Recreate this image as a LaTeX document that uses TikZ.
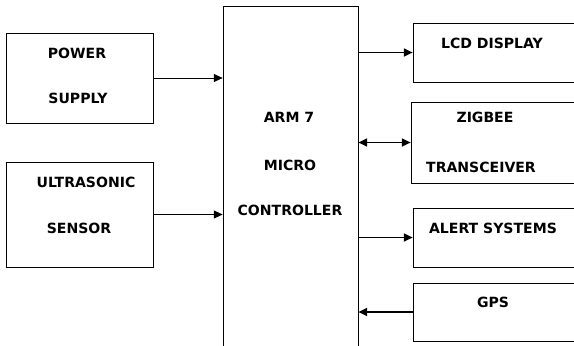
\documentclass[tikz,border=0pt]{standalone}
\usepackage{fontspec}
\setmainfont{DejaVu Sans}
\usetikzlibrary{arrows.meta}

\begin{document}
\begin{tikzpicture}[x=0.02cm, y=-0.02cm,
    block/.style={rectangle, draw, thin, inner sep=0pt},
    txt/.style={font=\bfseries\fontsize{8}{9}\selectfont, inner sep=0pt},
    feed/.style={-{Triangle[length=5pt,width=4.5pt]}, thin},
    link/.style={-{Triangle[length=5pt,width=4.5pt]}, line width=1pt},
    duplex/.style={{Triangle[length=5pt,width=4.5pt]}-{Triangle[length=5pt,width=4.5pt]}, line width=1pt}]
\useasboundingbox (0,0) rectangle (574,345);
\clip (0,0) rectangle (574,345);

% inputs
\node[block, minimum width=2.94cm, minimum height=1.8cm] (power) at (79.5,78) {};
\node[block, minimum width=2.94cm, minimum height=2.1cm] (sensor) at (79.5,214.5) {};
\node[txt] (powerA) at (77,53) {POWER};
\node[txt] (powerB) at (78,98) {SUPPLY};
\node[txt] (sensorA) at (86,182) {ULTRASONIC};
\node[txt] (sensorB) at (79,228) {SENSOR};

% controller
\node[block, minimum width=2.7cm, minimum height=7.48cm] (arm) at (290.5,193) {};
\node[txt] (armA) at (289,117) {ARM 7};
\node[txt] (armB) at (290,165) {MICRO};
\node[txt] (armC) at (290,210) {CONTROLLER};

% outputs
\node[block, minimum width=3.74cm, minimum height=1.18cm] (lcd) at (506.5,52.5) {};
\node[block, minimum width=3.78cm, minimum height=1.62cm] (zig) at (505.5,142.5) {};
\node[block, minimum width=3.74cm, minimum height=1.18cm] (alert) at (506.5,237.5) {};
\node[block, minimum width=3.74cm, minimum height=1.16cm] (gps) at (506.5,312) {};
\node[txt] (lcdA) at (492,43) {LCD DISPLAY};
\node[txt] (zigA) at (485,117) {ZIGBEE};
\node[txt] (zigB) at (481,167) {TRANSCEIVER};
\node[txt] (alertA) at (493,228) {ALERT SYSTEMS};
\node[txt] (gpsA) at (493,302) {GPS};

\draw[feed] (power) -- (power -| arm.west);
\draw[feed] (sensor) -- (sensor -| arm.west);
\draw[link] (lcd -| arm.east) -- (lcd);
\draw[duplex] (zig -| arm.east) -- (zig);
\draw[link] (alert -| arm.east) -- (alert);
\draw[link] (gps) -- (gps -| arm.east);

\end{tikzpicture}
\end{document}
